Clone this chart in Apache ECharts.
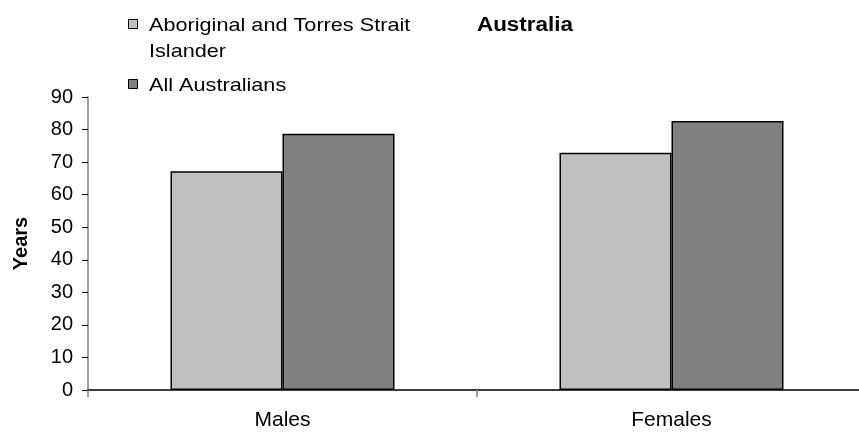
<!DOCTYPE html>
<html>
<head>
<meta charset="utf-8">
<script src="https://cdn.jsdelivr.net/npm/echarts@6/dist/echarts.min.js"></script>
<style>
  html, body { margin: 0; padding: 0; background: #ffffff; }
  #chart { width: 859px; height: 432px; }
</style>
</head>
<body>
<div id="chart"></div>
<script>
// Life expectancy at birth, in years
const categories = ['Males', 'Females'];
const seriesNames = ['Aboriginal and Torres Strait\nIslander', 'All Australians'];
const indigenousValues = [67.2, 72.9];
const allAustraliansValues = [78.7, 82.6];
const yTicks = [0, 10, 20, 30, 40, 50, 60, 70, 80, 90];
const seriesColors = ['#C0C0C0', '#808080'];
const chartTitle = 'Australia';

const FONT = 'Liberation Sans, Arial, sans-serif';

const chart = echarts.init(document.getElementById('chart'), null, { renderer: 'canvas' });

// Hand-built legend: square swatch aligned with the first line of each name
const legendRows = [18, 78];
const graphics = [];
seriesNames.forEach((name, i) => {
  graphics.push({
    type: 'rect',
    left: 128, top: legendRows[i] + 1,
    shape: { x: 0, y: 0, width: 9, height: 9 },
    style: { fill: seriesColors[i], stroke: '#000', lineWidth: 1 }
  });
  graphics.push({
    type: 'text',
    x: 149, y: legendRows[i] - 5,
    scaleX: 1.14,
    style: {
      text: name, fill: '#000', font: '19px ' + FONT, lineHeight: 26
    }
  });
});

// Bold title, slightly widened
graphics.push({
  type: 'text',
  x: 477, y: 15,
  scaleX: 1.12,
  style: { text: chartTitle, fill: '#000', font: 'bold 20px ' + FONT }
});

chart.setOption({
  backgroundColor: '#ffffff',
  animation: false,
  graphic: graphics,
  grid: {
    left: 88, top: 97, width: 778, height: 293,
    containLabel: false, outerBoundsMode: 'none'
  },
  xAxis: {
    type: 'category',
    data: categories,
    axisLine: { show: true, lineStyle: { color: '#000', width: 1.5 } },
    axisTick: { show: true, length: 7, lineStyle: { color: '#808080', width: 1.5 } },
    axisLabel: { margin: 20, fontFamily: FONT, fontSize: 21, color: '#000' },
    splitLine: { show: false }
  },
  yAxis: {
    type: 'value',
    min: yTicks[0], max: yTicks[yTicks.length - 1], interval: 10,
    name: 'Years',
    nameLocation: 'middle',
    nameRotate: 90,
    nameGap: 57,
    nameTextStyle: { fontFamily: FONT, fontSize: 20, fontWeight: 'bold', color: '#000' },
    axisLine: { show: true, lineStyle: { color: '#808080', width: 1.5 } },
    axisTick: { show: true, length: 6, lineStyle: { color: '#000', width: 1 } },
    axisLabel: { margin: 15, fontFamily: FONT, fontSize: 20, color: '#000' },
    splitLine: { show: false }
  },
  series: [
    {
      name: seriesNames[0], type: 'bar', data: indigenousValues,
      barWidth: 112, barGap: '0%',
      itemStyle: { color: seriesColors[0], borderColor: '#000', borderWidth: 1.5 }
    },
    {
      name: seriesNames[1], type: 'bar', data: allAustraliansValues,
      barWidth: 112, barGap: '0%',
      itemStyle: { color: seriesColors[1], borderColor: '#000', borderWidth: 1.5 }
    }
  ]
});
</script>
</body>
</html>
